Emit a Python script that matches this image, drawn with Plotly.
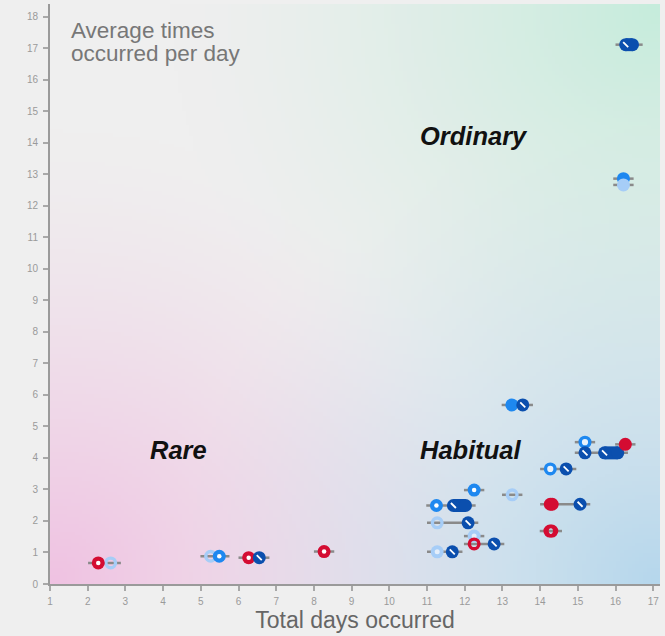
import numpy as np
import zlib, struct, base64
import plotly.graph_objects as go

# ---------------- data ----------------
# y value (average times occurred per day) for each item row
item_y = [17.11, 12.86, 12.66, 5.68, 4.50, 4.43, 4.16, 3.65, 2.98, 2.83,
          2.49, 2.53, 1.94, 1.68, 1.52, 1.27, 1.02, 0.67, 0.88, 0.835, 1.03]

# markers per style: row index + total days occurred
db_rows = [3, 6, 7, 11, 12, 15, 16, 19]          # dark blue with slash
db_x = [13.54, 15.19, 14.69, 15.06, 12.09, 12.78, 11.67, 6.55]

dbr_rows = [0, 6, 10]                              # dark blue ranges (pills)
dbr_x0 = [16.27, 15.71, 11.70]
dbr_x1 = [16.45, 16.06, 12.02]

mbf_rows = [1, 3]                                  # medium blue filled
mbf_x = [16.21, 13.25]

mbr_rows = [4, 7]                                  # medium blue ring
mbr_x = [15.19, 14.27]

mbd_rows = [8, 10, 18]                             # medium blue with dot
mbd_x = [12.25, 11.25, 5.49]

lbf_rows = [2]                                     # light blue filled
lbf_x = [16.21]

lbr_rows = [9, 12, 17, 18]                         # light blue ring
lbr_x = [13.26, 11.27, 2.61, 5.26]

lbd_rows = [14, 16]                                # light blue with dot
lbd_x = [12.25, 11.27]

rdd_rows = [17, 19, 20]                            # red with dot
rdd_x = [2.28, 6.27, 8.27]

rdf_rows = [5, 11, 11]                             # red filled
rdf_x = [16.26, 14.27, 14.32]

rdr_rows = [13, 13, 15]                            # red ring
rdr_x = [14.26, 14.31, 12.25]

x_ticks = list(range(1, 18))
y_ticks = list(range(0, 19))

# ---------------- styles ----------------
RED = '#d40c32'
DB = '#0b4fae'
MB = '#1e88f0'
LB = '#a6cdf7'
GRAY_LINE = '#8a8a8a'
MS = 13
X_RANGE = [1, 17.18]
Y_RANGE = [0, 18.4]


def png_uri(rgb):
    h, w, _ = rgb.shape
    raw = b''.join(b'\x00' + rgb[i].tobytes() for i in range(h))

    def chunk(t, d):
        c = struct.pack('>I', len(d)) + t + d
        return c + struct.pack('>I', zlib.crc32(t + d) & 0xffffffff)
    png = (b'\x89PNG\r\n\x1a\n'
           + chunk(b'IHDR', struct.pack('>IIBBBBB', w, h, 8, 2, 0, 0, 0))
           + chunk(b'IDAT', zlib.compress(raw, 9))
           + chunk(b'IEND', b''))
    return 'data:image/png;base64,' + base64.b64encode(png).decode()


# background gradient (decorative)
N = 160
u = np.linspace(0, 1, N)[None, :]
v = np.linspace(1, 0, N)[:, None]
base = np.array([239, 239, 239], float)
corners = [
    (np.array([240, 194, 226], float), 0.0, 0.0, 0.78),   # pink bottom-left
    (np.array([182, 215, 236], float), 1.0, 0.0, 0.8),    # blue bottom-right
    (np.array([198, 236, 220], float), 1.0, 1.0, 0.8),    # green top-right
]
img = np.zeros((N, N, 3)) + base
for col, cu, cv, R in corners:
    d = np.sqrt((u - cu) ** 2 + (v - cv) ** 2) / R
    w = np.clip(1 - d, 0, 1) ** 1.4
    img += w[..., None] * (col - base)
img = np.clip(img, 0, 255).astype(np.uint8)
bg_uri = png_uri(img)

fig = go.Figure()

# connecting gray lines per row
all_rows = (db_rows + dbr_rows + dbr_rows + mbf_rows + mbr_rows + mbd_rows + lbf_rows
            + lbr_rows + lbd_rows + rdd_rows + rdf_rows + rdr_rows)
all_x = (db_x + dbr_x0 + dbr_x1 + mbf_x + mbr_x + mbd_x + lbf_x
         + lbr_x + lbd_x + rdd_x + rdf_x + rdr_x)
pad = 0.27
lx, ly = [], []
for r in range(len(item_y)):
    xs = [x for rr, x in zip(all_rows, all_x) if rr == r]
    if not xs:
        continue
    lx += [min(xs) - pad, max(xs) + pad, None]
    ly += [item_y[r], item_y[r], None]
fig.add_trace(go.Scatter(x=lx, y=ly, mode='lines',
                         line=dict(color=GRAY_LINE, width=2.5), hoverinfo='skip'))


def ys(rows):
    return [item_y[r] for r in rows]


def filled(xs, rows, color, size=MS):
    fig.add_trace(go.Scatter(x=xs, y=ys(rows), mode='markers',
                             marker=dict(symbol='circle', size=size, color=color,
                                         line=dict(width=0))))


def ring(xs, rows, color, fill='rgba(0,0,0,0)'):
    fig.add_trace(go.Scatter(x=xs, y=ys(rows), mode='markers',
                             marker=dict(symbol='circle', size=MS - 3.4, color=fill,
                                         line=dict(width=3.4, color=color))))


def dots(xs, rows, size=4, color='white'):
    fig.add_trace(go.Scatter(x=xs, y=ys(rows), mode='markers',
                             marker=dict(symbol='circle', size=size, color=color,
                                         line=dict(width=0))))


def slash(xs, rows):
    fig.add_trace(go.Scatter(x=xs, y=ys(rows), mode='markers',
                             marker=dict(symbol='line-nw', size=5,
                                         line=dict(width=1.8, color='white'))))


# drawing order chosen to match overlaps
ring(lbr_x, lbr_rows, LB)
filled(mbf_x, mbf_rows, MB)
filled(lbf_x, lbf_rows, LB)
filled(mbd_x, mbd_rows, MB)
dots(mbd_x, mbd_rows, size=4.5)
ring(mbr_x, mbr_rows, MB, fill='#eaf2fb')
filled(lbd_x, lbd_rows, LB)
dots(lbd_x, lbd_rows, size=5, color='#e4eefa')
filled(rdd_x, rdd_rows, RED)
dots(rdd_x, rdd_rows, size=4.5)

# dark blue ranges (pills)
px, py = [], []
for x0, x1, r in zip(dbr_x0, dbr_x1, dbr_rows):
    px += [x0, x1, None]
    py += [item_y[r], item_y[r], None]
fig.add_trace(go.Scatter(x=px, y=py, mode='lines', line=dict(color=DB, width=MS),
                         hoverinfo='skip'))
filled(dbr_x0 + dbr_x1, dbr_rows + dbr_rows, DB)
filled(db_x, db_rows, DB)
slash(db_x + dbr_x0, db_rows + dbr_rows)

filled(rdf_x, rdf_rows, RED)
ring(rdr_x, rdr_rows, RED)

# ---------------- layout ----------------
axis_common = dict(showgrid=False, zeroline=False, showline=True, linecolor='#9a9a9a',
                   linewidth=2, ticks='outside', ticklen=5, tickwidth=1.5,
                   tickcolor='#a8a8a8', automargin=False,
                   tickfont=dict(family='Liberation Sans, Arial', size=10, color='#9a9a9a'))

label_font = dict(family='Liberation Sans, Arial', size=25.5, color='#111111',
                  style='italic', weight='bold')
corner_font = dict(family='Liberation Sans, Arial', size=22.5, color='#777777')

fig.update_layout(
    width=665, height=636,
    margin=dict(l=50, r=5, t=4, b=52),
    paper_bgcolor='#efefef', plot_bgcolor='#efefef',
    showlegend=False,
    xaxis=dict(range=X_RANGE, tickvals=x_ticks, ticklabelstandoff=2,
               title=dict(text='Total days occurred', standoff=0,
                          font=dict(family='Liberation Sans, Arial', size=23, color='#666666')),
               **axis_common),
    yaxis=dict(range=Y_RANGE, tickvals=y_ticks, ticklabelstandoff=3, **axis_common),
    images=[dict(source=bg_uri, xref='x', yref='y', x=X_RANGE[0], y=Y_RANGE[1],
                 sizex=X_RANGE[1] - X_RANGE[0], sizey=Y_RANGE[1] - Y_RANGE[0],
                 sizing='stretch', xanchor='left', yanchor='top', layer='below')],
    annotations=[
        dict(text='Average times', xref='paper', yref='paper',
             x=0.031, y=0.955, xanchor='left', yanchor='middle', showarrow=False,
             font=corner_font),
        dict(text='occurred per day', xref='paper', yref='paper',
             x=0.031, y=0.9155, xanchor='left', yanchor='middle', showarrow=False,
             font=corner_font),
        dict(text='Ordinary', x=12.25, y=14.2, xref='x', yref='y', showarrow=False,
             font=label_font),
        dict(text='Rare', x=4.4, y=4.25, xref='x', yref='y', showarrow=False,
             font=label_font),
        dict(text='Habitual', x=12.17, y=4.25, xref='x', yref='y', showarrow=False,
             font=label_font),
    ],
)

fig.write_html('out.html', post_script="document.body.style.margin='0';",
               config={'displayModeBar': False})
